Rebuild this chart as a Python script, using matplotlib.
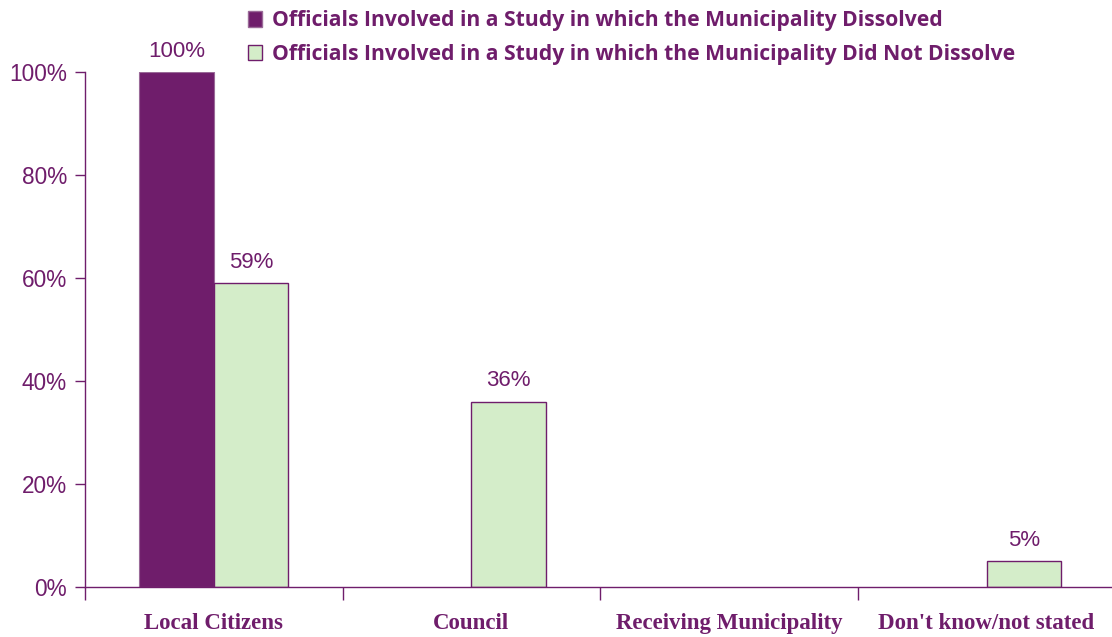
import numpy as np
import matplotlib
matplotlib.use("Agg")
import matplotlib.pyplot as plt
from matplotlib.patches import Patch

# Data
categories = ["Local Citizens", "Council", "Receiving Municipality", "Don't know/not stated"]
dissolved = [100, 0, 0, 0]
not_dissolved = [59, 36, 0, 5]
series_names = ["Officials Involved in a Study in which the Municipality Dissolved",
                "Officials Involved in a Study in which the Municipality Did Not Dissolve"]

purple = "#6F1D6B"
light = "#D4EDC9"
text_col = "#6F1D6B"

fig = plt.figure(figsize=(11.12, 6.37), dpi=100)
ax = fig.add_axes([85/1112, 1-587/637, 1-85/1112 + 0.003, (587-72)/637])

x = np.arange(len(categories))
w = 0.29
for i in range(len(categories)):
    if dissolved[i] > 0:
        ax.bar(x[i] - w/2, dissolved[i], w, color=purple, edgecolor="#9A6A98", linewidth=0.8)
        ax.text(x[i] - w/2, dissolved[i] + 2.0, f"{dissolved[i]}%", ha="center", va="bottom",
                fontsize=16, color=text_col, family="Liberation Sans")
    if not_dissolved[i] > 0:
        ax.bar(x[i] + w/2, not_dissolved[i], w, color=light, edgecolor=purple, linewidth=1.0)
        ax.text(x[i] + w/2, not_dissolved[i] + 2.0, f"{not_dissolved[i]}%", ha="center", va="bottom",
                fontsize=16, color=text_col, family="Liberation Sans")

ax.set_xlim(-0.5, 3.5)
ax.set_ylim(0, 100)
ax.set_yticks([0, 20, 40, 60, 80, 100])
ax.set_yticklabels([f"{v}%" for v in [0, 20, 40, 60, 80, 100]], fontsize=16.3,
                   color=text_col, family="Liberation Sans")
ax.set_xticks([-0.5, 0.5, 1.5, 2.5])
ax.set_xticklabels([])
ax.set_xticks(x, minor=True)
ax.set_xticklabels(categories, minor=True, fontsize=16.5, fontweight="bold",
                   color=text_col, family="Liberation Serif")
ax.tick_params(axis="x", which="minor", length=0, pad=19)
ax.tick_params(axis="x", which="major", length=9, width=1, color=purple, direction="out")
ax.tick_params(axis="y", length=7, width=1, color=purple, direction="out", pad=6)

for s in ["top", "right"]:
    ax.spines[s].set_visible(False)
for s in ["left", "bottom"]:
    ax.spines[s].set_color(purple)
    ax.spines[s].set_linewidth(1)

handles = [Patch(facecolor=purple, edgecolor="#9A6A98"),
           Patch(facecolor=light, edgecolor=purple)]
leg = fig.legend(handles, series_names, loc="upper left", bbox_to_anchor=(240/1112, 1 - 2/637),
                 frameon=False, handlelength=0.65, handleheight=0.75, handletextpad=0.45,
                 labelspacing=0.6, borderaxespad=0.0,
                 prop={"family": "Open Sans", "weight": "bold", "size": 15.2})
for t in leg.get_texts():
    t.set_color(text_col)

fig.savefig("out.png", dpi=100)
